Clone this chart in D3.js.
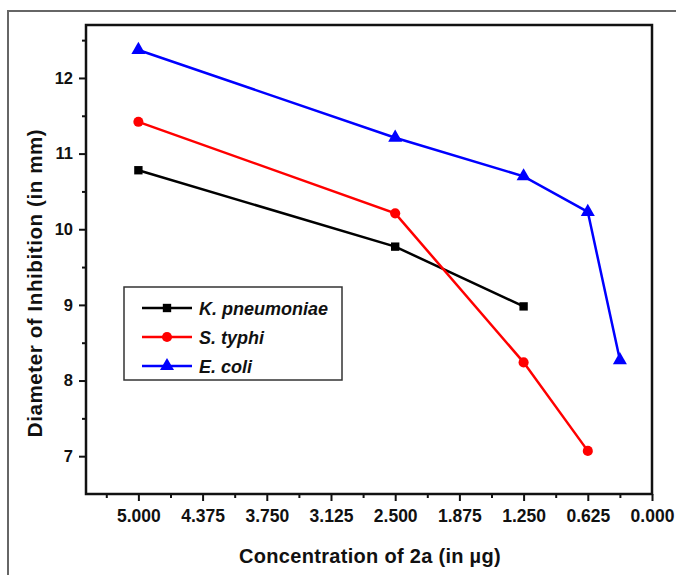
<!DOCTYPE html>
<html>
<head>
<meta charset="utf-8">
<script src="https://cdn.jsdelivr.net/npm/d3@7"></script>
<style>
body { margin: 0; background: #fff; }
text { font-family: "Liberation Sans", Arial, sans-serif; font-weight: bold; }
</style>
</head>
<body>
<script>
// data
var seriesNames = ["K. pneumoniae", "S. typhi", "E. coli"]
var colors = ["#000000", "#ff0000", "#0000ff"]
var markers = ["square", "circle", "triangle"]
var kpX = [5.0, 2.5, 1.25]
var kpY = [10.78, 9.77, 8.98]
var stX = [5.0, 2.5, 1.25, 0.625]
var stY = [11.42, 10.21, 8.24, 7.07]
var ecX = [5.0, 2.5, 1.25, 0.625, 0.3125]
var ecY = [12.37, 11.21, 10.70, 10.23, 8.27]
var xTicks = [5.0, 4.375, 3.75, 3.125, 2.5, 1.875, 1.25, 0.625, 0.0]
var yTicks = [7, 8, 9, 10, 11, 12]

var W = 676, H = 575
var margin = {top: 25, right: 24, bottom: 81, left: 86}
var width = W - margin.left - margin.right,
    height = H - margin.top - margin.bottom

var svg = d3.select("body").append("svg").attr("width", W).attr("height", H)

// outer gray border (cut off on right/bottom)
svg.append("rect").attr("x", 8).attr("y", 11).attr("width", 700).attr("height", 600)
    .attr("fill", "none").attr("stroke", "#666").attr("stroke-width", 2)

var g = svg.append("g").attr("transform", "translate(" + margin.left + "," + margin.top + ")")

var x = d3.scaleLinear().domain([5.51, 0]).range([0, width])
var y = d3.scaleLinear().domain([6.5, 12.7]).range([height, 0])

// minor ticks
var xMinor = d3.range(0, 5.5, 0.3125).filter(function(v){ return xTicks.indexOf(v) < 0 })
var yMinor = d3.range(7, 12.7, 0.5).filter(function(v){ return v % 1 != 0 })

var xAxis = d3.axisBottom(x).tickValues(xTicks).tickFormat(d3.format(".3f")).tickSize(7).tickPadding(9)
var yAxis = d3.axisLeft(y).tickValues(yTicks).tickFormat(d3.format("d")).tickSize(7).tickPadding(6)

var gx = g.append("g").attr("transform", "translate(0," + height + ")").call(xAxis)
var gy = g.append("g").call(yAxis)
g.append("g").attr("transform", "translate(0," + height + ")")
    .call(d3.axisBottom(x).tickValues(xMinor).tickSize(4).tickFormat(""))
g.append("g").call(d3.axisLeft(y).tickValues(yMinor).tickSize(4).tickFormat(""))

g.selectAll(".domain").remove()
g.selectAll(".tick line").attr("stroke", "#111").attr("stroke-width", 2)
gx.selectAll("text").attr("font-size", 17.5).attr("fill", "#111")
gy.selectAll("text").attr("font-size", 16.5).attr("fill", "#111")

// frame
g.append("rect").attr("width", width).attr("height", height)
    .attr("fill", "none").attr("stroke", "#111").attr("stroke-width", 2.5)

var symbolTypes = {square: d3.symbolSquare, circle: d3.symbolCircle, triangle: d3.symbolTriangle}
var symbolSizes = {square: 70, circle: 80, triangle: 85}

var allX = [kpX, stX, ecX], allY = [kpY, stY, ecY]
var line = d3.line().x(function(d){ return x(d[0]) }).y(function(d){ return y(d[1]) })

seriesNames.forEach(function(name, i) {
    var pts = allX[i].map(function(v, j){ return [v, allY[i][j]] })
    g.append("path").attr("d", line(pts)).attr("fill", "none")
        .attr("stroke", colors[i]).attr("stroke-width", 2.5)
    g.selectAll(".m" + i).data(pts).enter().append("path")
        .attr("transform", function(d){ return "translate(" + x(d[0]) + "," + y(d[1]) + ")" })
        .attr("d", d3.symbol().type(symbolTypes[markers[i]]).size(symbolSizes[markers[i]]))
        .attr("fill", colors[i])
})

// legend
var lg = svg.append("g").attr("transform", "translate(124,287)")
lg.append("rect").attr("width", 218).attr("height", 93)
    .attr("fill", "#fff").attr("stroke", "#333").attr("stroke-width", 1.5)
seriesNames.forEach(function(name, i) {
    var ly = 21 + i * 29
    lg.append("line").attr("x1", 18).attr("x2", 68).attr("y1", ly).attr("y2", ly)
        .attr("stroke", colors[i]).attr("stroke-width", 2.5)
    lg.append("path").attr("transform", "translate(43," + ly + ")")
        .attr("d", d3.symbol().type(symbolTypes[markers[i]]).size(symbolSizes[markers[i]]))
        .attr("fill", colors[i])
    lg.append("text").attr("x", 75).attr("y", ly + 6.5).attr("font-size", 18)
        .attr("font-style", "italic").attr("fill", "#111").text(name)
})

// axis titles
svg.append("text").attr("x", 370).attr("y", 563)
    .attr("text-anchor", "middle").attr("font-size", 20).attr("fill", "#111")
    .attr("letter-spacing", 0.3)
    .text("Concentration of 2a (in \u00b5g)")
svg.append("text").attr("transform", "translate(42,283) rotate(-90)")
    .attr("text-anchor", "middle").attr("font-size", 20.5).attr("fill", "#111")
    .attr("letter-spacing", 0.6)
    .text("Diameter of Inhibition (in mm)")
</script>
</body>
</html>
